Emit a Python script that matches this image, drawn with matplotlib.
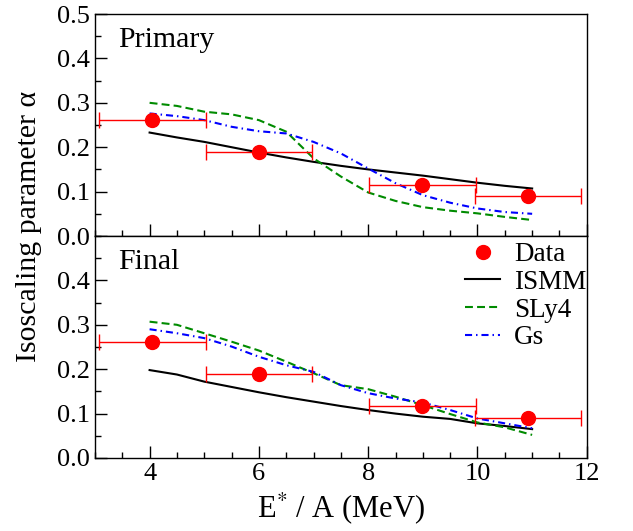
import matplotlib
matplotlib.use('Agg')
import matplotlib.pyplot as plt
from matplotlib.ticker import MultipleLocator

plt.rcParams['font.family'] = ['Liberation Serif', 'DejaVu Serif']
plt.rcParams['mathtext.fontset'] = 'stix'

# measured data (same in both panels)
data_x = [4.05, 6.0, 8.99, 10.93]
data_y = [0.262, 0.189, 0.116, 0.089]
data_xerr = [0.98, 0.97, 0.98, 0.97]

# model curves, top panel (primary)
ex = [4.0, 4.5, 5.0, 5.5, 6.0, 6.5, 7.0, 7.5, 8.0, 8.5, 9.0, 9.5, 10.0, 10.5, 11.0]
ismm_p = [0.233, 0.222, 0.212, 0.200, 0.188, 0.177, 0.167, 0.158, 0.150, 0.143, 0.136, 0.128, 0.120, 0.113, 0.107]
sly4_p = [0.300, 0.293, 0.280, 0.274, 0.261, 0.235, 0.175, 0.134, 0.098, 0.079, 0.065, 0.057, 0.051, 0.043, 0.036]
gs_p = [0.276, 0.270, 0.261, 0.246, 0.236, 0.231, 0.212, 0.186, 0.152, 0.119, 0.092, 0.075, 0.062, 0.054, 0.050]

# model curves, bottom panel (final)
ismm_f = [0.198, 0.188, 0.172, 0.160, 0.148, 0.137, 0.127, 0.117, 0.108, 0.100, 0.093, 0.088, 0.078, 0.072, 0.065]
sly4_f = [0.307, 0.300, 0.281, 0.262, 0.242, 0.217, 0.191, 0.164, 0.155, 0.138, 0.119, 0.099, 0.080, 0.069, 0.052]
gs_f = [0.290, 0.281, 0.270, 0.251, 0.228, 0.209, 0.194, 0.164, 0.146, 0.134, 0.125, 0.108, 0.089, 0.078, 0.067]

panels = [('Primary', ismm_p, sly4_p, gs_p), ('Final', ismm_f, sly4_f, gs_f)]

red = '#ff0000'
green = '#008b00'
blue = '#0000ff'

fig, axes = plt.subplots(2, 1, figsize=(6.33, 5.31), dpi=100, sharex=True)
fig.subplots_adjust(left=0.150, right=0.927, top=0.9736, bottom=0.1375, hspace=0)

for ax, (name, ismm, sly4, gs) in zip(axes, panels):
    ax.errorbar(data_x, data_y, xerr=data_xerr, fmt='none', ecolor=red,
                elinewidth=1, capsize=6, capthick=1, zorder=4)
    ax.plot(data_x, data_y, 'o', color=red, ms=10, label='Data', zorder=5)
    ax.plot(ex, ismm, color='black', lw=1.5, label='ISMM')
    ax.plot(ex, sly4, color=green, lw=1.5, ls=(0, (3.8, 2.0)), label='SLy4')
    ax.plot(ex, gs, color=blue, lw=1.5, ls=(0, (3.4, 1.9, 0.7, 1.9)), label='Gs')
    ax.text(0.047, 0.852, name, transform=ax.transAxes, fontsize=21.5, va='baseline')
    ax.set_xlim(3, 12)
    ax.set_ylim(0, 0.5)
    ax.xaxis.set_major_locator(MultipleLocator(2))
    ax.xaxis.set_minor_locator(MultipleLocator(0.5))
    ax.yaxis.set_major_locator(MultipleLocator(0.1))
    ax.yaxis.set_minor_locator(MultipleLocator(0.05))
    ax.tick_params(which='both', direction='in', top=False, right=False, width=1, labelsize=19)
    ax.tick_params(which='major', length=8.5)
    ax.tick_params(which='minor', length=4.3)
    ax.yaxis.set_major_formatter(plt.FuncFormatter(lambda v, p: '%.1f' % v))
    for s in ax.spines.values():
        s.set_linewidth(1)

axes[1].set_yticks([0.0, 0.1, 0.2, 0.3, 0.4])
axes[1].set_ylim(0, 0.5)
axes[1].set_xlabel(r'E$^{*}$ / A (MeV)', fontsize=22, labelpad=4)

axes[1].legend(loc='upper right', bbox_to_anchor=(1.01, 0.997), frameon=False,
               fontsize=19.5, handlelength=1.3, handletextpad=0.5, labelspacing=0.1,
               borderaxespad=0, borderpad=0.2)

fig.text(0.046, 0.574, r'Isoscaling parameter α', rotation=90, fontsize=21.5,
         va='center', ha='center')

fig.savefig('out.png', dpi=100)
